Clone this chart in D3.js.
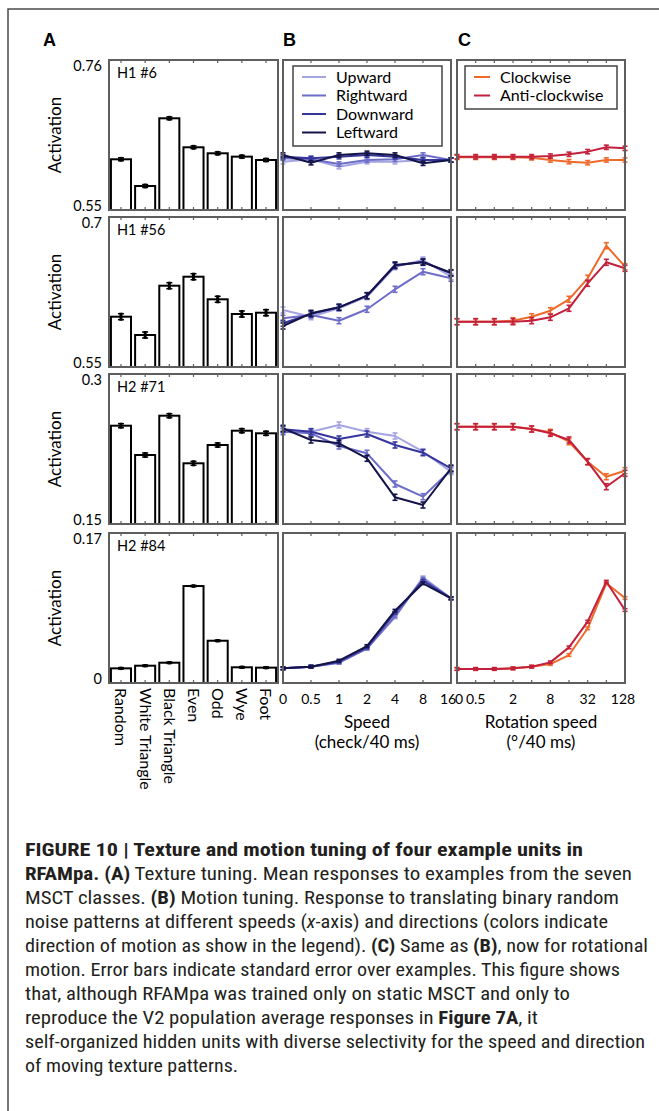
<!DOCTYPE html>
<html>
<head>
<meta charset="utf-8">
<script src="https://cdn.jsdelivr.net/npm/d3@7"></script>
<style>
  body { margin: 0; background: #fff; }
  svg { display: block; }
</style>
</head>
<body>
<div id="fig"></div>
<script>
// ---- data ----
var categories = ['Random', 'White Triangle', 'Black Triangle', 'Even', 'Odd', 'Wye', 'Foot'];
var units = ['H1 #6', 'H1 #56', 'H2 #71', 'H2 #84'];
var yMin = [0.55, 0.55, 0.15, 0];
var yMax = [0.76, 0.7, 0.3, 0.17];
var yTickTop = ['0.76', '0.7', '0.3', '0.17'];
var yTickBottom = ['0.55', '0.55', '0.15', '0'];

var textureMean = [
  [0.621, 0.5836, 0.6784, 0.6378, 0.6294, 0.6247, 0.620],
  [0.6003, 0.582, 0.6313, 0.6403, 0.6177, 0.603, 0.6043],
  [0.2483, 0.219, 0.2583, 0.2107, 0.229, 0.2433, 0.2407],
  [0.0166, 0.0196, 0.023, 0.1099, 0.0479, 0.0178, 0.0174]
];
var textureErr = [
  [0.002, 0.002, 0.002, 0.002, 0.002, 0.002, 0.002],
  [0.003, 0.003, 0.003, 0.003, 0.003, 0.003, 0.003],
  [0.002, 0.002, 0.002, 0.002, 0.002, 0.002, 0.002],
  [0.0008, 0.0008, 0.0008, 0.0008, 0.0008, 0.0008, 0.0008]
];

var speeds = ['0', '0.5', '1', '2', '4', '8', '16'];
var rotSpeeds = ['0', '0.5', '1', '2', '4', '8', '16', '32', '64', '128'];
var rotTickLabels = ['0', '0.5', '2', '8', '32', '128'];

var directions = ['Upward', 'Rightward', 'Downward', 'Leftward'];
var upward = [
  [0.6176, 0.621, 0.6106, 0.6176, 0.6176, 0.620, 0.620],
  [0.607, 0.6003, 0.6087, 0.6203, 0.6503, 0.657, 0.6403],
  [0.2433, 0.2423, 0.249, 0.2423, 0.238, 0.2223, 0.2023],
  [0.0166, 0.0185, 0.023, 0.0393, 0.0744, 0.1197, 0.096]
];
var rightward = [
  [0.6224, 0.621, 0.6144, 0.620, 0.621, 0.627, 0.620],
  [0.5987, 0.602, 0.5963, 0.6077, 0.6277, 0.6453, 0.6387],
  [0.2423, 0.2407, 0.228, 0.2207, 0.19, 0.1773, 0.204],
  [0.0166, 0.0185, 0.023, 0.0389, 0.0759, 0.1182, 0.096]
];
var downward = [
  [0.6246, 0.6224, 0.6246, 0.627, 0.6246, 0.620, 0.620],
  [0.5937, 0.603, 0.6097, 0.6213, 0.6513, 0.6553, 0.6437],
  [0.2447, 0.2423, 0.235, 0.240, 0.229, 0.2213, 0.2057],
  [0.0166, 0.0185, 0.0242, 0.0404, 0.0797, 0.1159, 0.096]
];
var leftward = [
  [0.627, 0.6162, 0.627, 0.6294, 0.627, 0.6154, 0.620],
  [0.591, 0.6037, 0.6097, 0.6213, 0.652, 0.6547, 0.6443],
  [0.2457, 0.234, 0.2307, 0.2157, 0.1767, 0.169, 0.2057],
  [0.0166, 0.0185, 0.0253, 0.0419, 0.0819, 0.113, 0.096]
];

var rotations = ['Clockwise', 'Anti-clockwise'];
var clockwise = [
  [0.6237, 0.6237, 0.6237, 0.6237, 0.623, 0.620, 0.6177, 0.6162, 0.620, 0.620],
  [0.5953, 0.5953, 0.5953, 0.5963, 0.6003, 0.6063, 0.6177, 0.6387, 0.6713, 0.6503],
  [0.2473, 0.2473, 0.2473, 0.2473, 0.245, 0.2417, 0.2323, 0.2123, 0.1973, 0.2033],
  [0.0159, 0.0159, 0.0159, 0.0166, 0.0185, 0.0215, 0.0317, 0.062, 0.113, 0.0963]
];
var anticlockwise = [
  [0.6246, 0.6246, 0.6246, 0.6246, 0.6246, 0.6255, 0.628, 0.6317, 0.6378, 0.6363],
  [0.5953, 0.5953, 0.5953, 0.5953, 0.5963, 0.5997, 0.6087, 0.6337, 0.6547, 0.6487],
  [0.2473, 0.2473, 0.2473, 0.2473, 0.245, 0.2407, 0.234, 0.2123, 0.1873, 0.2007],
  [0.0159, 0.0159, 0.0159, 0.0166, 0.0185, 0.0234, 0.0404, 0.0695, 0.1148, 0.0827]
];
var motionErr = [0.003, 0.003, 0.003, 0.0015];

var dirColors = ['#a4a4e2', '#6d6dc8', '#35359c', '#141448'];
var rotColors = ['#ef6a2a', '#c2203c'];

var captionLines = [
  [['b', 'FIGURE 10 | Texture and motion tuning of four example units in']],
  [['b', 'RFAMpa. (A)'], ['', ' Texture tuning. Mean responses to examples from the seven']],
  [['', 'MSCT classes. '], ['b', '(B)'], ['', ' Motion tuning. Response to translating binary random']],
  [['', 'noise patterns at different speeds ('], ['i', 'x'], ['', '-axis) and directions (colors indicate']],
  [['', 'direction of motion as show in the legend). '], ['b', '(C)'], ['', ' Same as '], ['b', '(B)'], ['', ', now for rotational']],
  [['', 'motion. Error bars indicate standard error over examples. This figure shows']],
  [['', 'that, although RFAMpa was trained only on static MSCT and only to']],
  [['', 'reproduce the V2 population average responses in '], ['b', 'Figure 7A'], ['', ', it']],
  [['', 'self-organized hidden units with diverse selectivity for the speed and direction']],
  [['', 'of moving texture patterns.']]
];
var captionEnds = [583, 632, 619, 608, 648, 620, 570, 538, 645, 238];

// ---- layout ----
var W = 659, H = 1111;
var FONT = "Lato, 'Open Sans', sans-serif";
var colX = [109, 283, 457];
var colW = [169, 168, 168];
var rowY = [60, 217, 374, 533];
var panelH = 150;
var frameColor = '#5e5e5e';

var svg = d3.select('#fig').append('svg')
  .attr('width', W)
  .attr('height', H)
  .style('font-family', FONT);

svg.append('rect').attr('width', W).attr('height', H).style('fill', '#fff');

// outer page frame
svg.append('rect')
  .attr('x', 8).attr('y', 9)
  .attr('width', 720).attr('height', 1200)
  .style('fill', 'none')
  .style('stroke', '#4a4a4a')
  .style('stroke-width', 1.5);

// panel letters
['A', 'B', 'C'].forEach(function(l, i) {
  svg.append('text')
    .attr('x', [43, 283, 458][i])
    .attr('y', 46)
    .style('font-family', "'Liberation Sans', Arial, sans-serif")
    .style('font-weight', 'bold')
    .style('font-size', '18px')
    .text(l);
});

var xA = d3.scaleBand(categories, [colX[0], colX[0] + colW[0]])
  .paddingInner(0.17)
  .paddingOuter(0.08);
var xB = d3.scalePoint(speeds, [colX[1], colX[1] + colW[1]]);
var xC = d3.scalePoint(rotSpeeds, [colX[2], colX[2] + colW[2]]);

function frameTicks(g, positions, top, bottom) {
  positions.forEach(function(px) {
    g.append('line').attr('x1', px).attr('x2', px)
      .attr('y1', top).attr('y2', top + 3)
      .style('stroke', frameColor).style('stroke-width', 1.2);
    g.append('line').attr('x1', px).attr('x2', px)
      .attr('y1', bottom).attr('y2', bottom - 3)
      .style('stroke', frameColor).style('stroke-width', 1.2);
  });
}

function drawFrame(g, x, w, top) {
  g.append('rect')
    .attr('x', x).attr('y', top)
    .attr('width', w).attr('height', panelH)
    .style('fill', 'none')
    .style('stroke', frameColor)
    .style('stroke-width', 2);
}

function drawSeries(g, xs, keys, values, err, color, y) {
  var line = d3.line()
    .x(function(d, i) { return xs(keys[i]); })
    .y(function(d) { return y(d); });

  g.append('path')
    .datum(values)
    .attr('d', line)
    .style('fill', 'none')
    .style('stroke', color)
    .style('stroke-width', 2)
    .style('stroke-linejoin', 'round');

  var eb = g.append('g').style('stroke', color).style('stroke-width', 1.6);
  values.forEach(function(v, i) {
    var px = xs(keys[i]);
    eb.append('line').attr('x1', px).attr('x2', px)
      .attr('y1', y(v - err)).attr('y2', y(v + err));
    eb.append('line').attr('x1', px - 2.5).attr('x2', px + 2.5)
      .attr('y1', y(v - err)).attr('y2', y(v - err));
    eb.append('line').attr('x1', px - 2.5).attr('x2', px + 2.5)
      .attr('y1', y(v + err)).attr('y2', y(v + err));
  });
}

units.forEach(function(unit, r) {
  var top = rowY[r], bottom = top + panelH;
  var y = d3.scaleLinear([yMin[r], yMax[r]], [bottom, top]);
  var g = svg.append('g').attr('class', 'row-' + r);

  // --- A: texture bars ---
  var gA = g.append('g');
  gA.selectAll('rect.bar')
    .data(textureMean[r])
    .enter().append('rect')
      .attr('class', 'bar')
      .attr('x', function(d, i) { return xA(categories[i]); })
      .attr('y', function(d) { return y(d); })
      .attr('width', xA.bandwidth())
      .attr('height', function(d) { return bottom - y(d); })
      .style('fill', '#fff')
      .style('stroke', '#000')
      .style('stroke-width', 2);

  textureMean[r].forEach(function(v, i) {
    var cx = xA(categories[i]) + xA.bandwidth() / 2;
    var e = textureErr[r][i];
    gA.append('line').attr('x1', cx).attr('x2', cx)
      .attr('y1', y(v - e) + 1).attr('y2', y(v + e) - 1)
      .style('stroke', '#000').style('stroke-width', 3);
    gA.append('line').attr('x1', cx - 3).attr('x2', cx + 3)
      .attr('y1', y(v + e)).attr('y2', y(v + e))
      .style('stroke', '#000').style('stroke-width', 1.5);
    gA.append('line').attr('x1', cx - 3).attr('x2', cx + 3)
      .attr('y1', y(v - e)).attr('y2', y(v - e))
      .style('stroke', '#000').style('stroke-width', 1.5);
  });

  drawFrame(g, colX[0], colW[0], top);
  frameTicks(g, categories.map(function(c) { return xA(c) + xA.bandwidth() / 2; }), top, bottom);

  g.append('text')
    .attr('x', colX[0] + 8)
    .attr('y', top + 18)
    .style('font-size', '14.5px')
    .text(unit);

  // y tick labels
  g.append('text')
    .attr('x', 102).attr('y', top + 11)
    .attr('text-anchor', 'end')
    .style('font-size', '14.5px')
    .text(yTickTop[r]);
  g.append('text')
    .attr('x', 102).attr('y', bottom + 1)
    .attr('text-anchor', 'end')
    .style('font-size', '14.5px')
    .text(yTickBottom[r]);

  g.append('text')
    .attr('transform', 'translate(61,' + (top + panelH / 2) + ') rotate(-90)')
    .attr('text-anchor', 'middle')
    .style('font-size', '17px')
    .text('Activation');

  // --- B: translation speed ---
  var gB = g.append('g');
  [upward, rightward, downward, leftward].forEach(function(series, k) {
    drawSeries(gB, xB, speeds, series[r], motionErr[r], dirColors[k], y);
  });
  drawFrame(g, colX[1], colW[1], top);
  frameTicks(g, speeds.slice(1, -1).map(function(s) { return xB(s); }), top, bottom);

  // --- C: rotation speed ---
  var gC = g.append('g');
  [clockwise, anticlockwise].forEach(function(series, k) {
    drawSeries(gC, xC, rotSpeeds, series[r], motionErr[r], rotColors[k], y);
  });
  drawFrame(g, colX[2], colW[2], top);
  frameTicks(g, rotSpeeds.slice(1, -1).map(function(s) { return xC(s); }), top, bottom);
});

// ---- legends ----
function legend(x, y, w, rowH, names, colors, lineLen) {
  var lg = svg.append('g');
  lg.append('rect')
    .attr('x', x).attr('y', y)
    .attr('width', w).attr('height', rowH * names.length + 6)
    .style('fill', '#fff')
    .style('stroke', '#444')
    .style('stroke-width', 1.5);
  names.forEach(function(n, i) {
    var cy = y + 11 + i * rowH;
    lg.append('line')
      .attr('x1', x + 9).attr('x2', x + 9 + lineLen)
      .attr('y1', cy).attr('y2', cy)
      .style('stroke', colors[i]).style('stroke-width', 2);
    lg.append('text')
      .attr('x', x + 9 + lineLen + 10)
      .attr('y', cy)
      .attr('dy', '0.35em')
      .style('font-size', '16px')
      .text(n);
  });
}
legend(293, 66, 149, 18.5, directions, dirColors, 24);
legend(465, 66, 152, 18.5, rotations, rotColors, 16);

// ---- x axes under the last row ----
var lastBottom = rowY[3] + panelH;

svg.append('g').selectAll('text')
  .data(categories)
  .enter().append('text')
    .attr('transform', function(d) {
      return 'translate(' + (xA(d) + xA.bandwidth() / 2) + ',' + (lastBottom + 5) + ') rotate(90)';
    })
    .attr('dy', '0.35em')
    .style('font-size', '16px')
    .text(function(d) { return d; });

svg.append('g').selectAll('text')
  .data(speeds)
  .enter().append('text')
    .attr('x', function(d) { return xB(d); })
    .attr('dx', function(d, i) { return i === speeds.length - 1 ? -3 : 0; })
    .attr('y', lastBottom + 21)
    .attr('text-anchor', 'middle')
    .style('font-size', '14px')
    .text(function(d) { return d; });

svg.append('g').selectAll('text')
  .data(rotTickLabels)
  .enter().append('text')
    .attr('x', function(d) { return xC(d); })
    .attr('dx', function(d, i) { return i === 0 ? 2 : (i === rotTickLabels.length - 1 ? -2 : 0); })
    .attr('y', lastBottom + 21)
    .attr('text-anchor', 'middle')
    .style('font-size', '14px')
    .text(function(d) { return d; });

[['Speed', '(check/40 ms)', colX[1] + colW[1] / 2],
 ['Rotation speed', '(\u00b0/40 ms)', colX[2] + colW[2] / 2]].forEach(function(t) {
  svg.append('text').attr('x', t[2]).attr('y', lastBottom + 45)
    .attr('text-anchor', 'middle').style('font-size', '17px').text(t[0]);
  svg.append('text').attr('x', t[2]).attr('y', lastBottom + 65)
    .attr('text-anchor', 'middle').style('font-size', '17px').text(t[1]);
});

// ---- caption ----
var cap = svg.append('g')
  .style('font-family', "'Liberation Sans Narrow', 'Roboto Condensed', Roboto, 'Liberation Sans', sans-serif")
  .style('font-size', '17.5px')
  .style('fill', '#231f20');

captionLines.forEach(function(parts, i) {
  var t = cap.append('text')
    .attr('x', 25)
    .attr('y', 856 + i * 24)
    .attr('textLength', captionEnds[i] - 25)
    .attr('lengthAdjust', 'spacingAndGlyphs');
  parts.forEach(function(p) {
    t.append('tspan')
      .style('font-weight', p[0] === 'b' ? 'bold' : 'normal')
      .style('font-style', p[0] === 'i' ? 'italic' : 'normal')
      .text(p[1]);
  });
});
</script>
</body>
</html>
